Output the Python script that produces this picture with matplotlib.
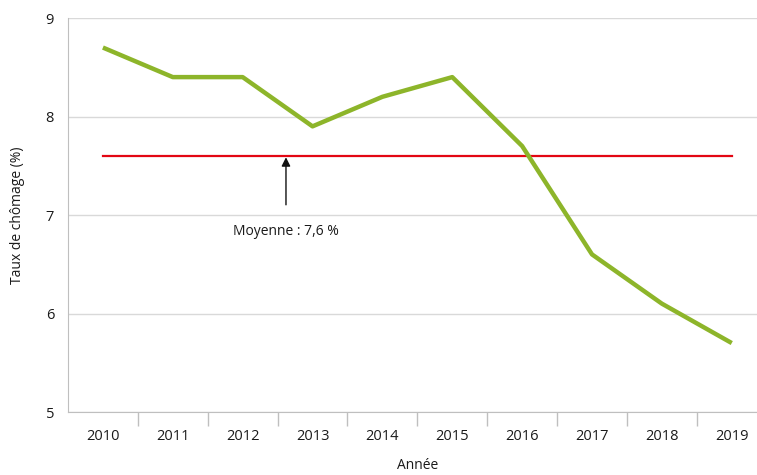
import matplotlib.pyplot as plt

plt.rcParams['font.family'] = ['Open Sans', 'DejaVu Sans']

years = ['2010', '2011', '2012', '2013', '2014', '2015', '2016', '2017', '2018', '2019']
taux = [8.7, 8.4, 8.4, 7.9, 8.2, 8.4, 7.7, 6.6, 6.1, 5.7]
moyenne = 7.6

fig = plt.figure(figsize=(7.57, 4.75), dpi=100)
ax = fig.add_axes([0.0898, 0.1326, 0.923, 0.8295])

x = list(range(len(years)))
ax.plot(x, [moyenne] * len(x), color='#e30613', lw=1.6, zorder=3)
ax.plot(x, taux, color='#8db52a', lw=3.2, solid_capstyle='butt', zorder=4)

ax.annotate('Moyenne : 7,6 %', xy=(2.62, moyenne), xytext=(2.62, 6.83),
            ha='center', va='center', fontsize=10, color='#1a1a1a',
            arrowprops=dict(arrowstyle='-|>', color='#111111', lw=1,
                            shrinkA=12, shrinkB=1, mutation_scale=13))

ax.set_xlim(-0.5, 9.5)
ax.set_ylim(5, 9)
ax.set_yticks([5, 6, 7, 8, 9])
ax.yaxis.grid(True, color='#d9d9d9', lw=1)
ax.set_axisbelow(True)
ax.tick_params(axis='y', length=0, pad=10, labelsize=10.5, labelcolor='#1a1a1a')

ax.set_xticks([i + 0.5 for i in range(len(years) - 1)])
ax.set_xticklabels([])
ax.set_xticks(x, minor=True)
ax.set_xticklabels(years, minor=True)
ax.tick_params(axis='x', which='major', length=10, color='#bfbfbf', width=1)
ax.tick_params(axis='x', which='minor', length=0, pad=12, labelsize=10.5, labelcolor='#1a1a1a')

for s in ['top', 'right']:
    ax.spines[s].set_visible(False)
for s in ['left', 'bottom']:
    ax.spines[s].set_color('#bfbfbf')

ax.set_xlabel('Année', fontsize=10, labelpad=10, color='#1a1a1a')
ax.set_ylabel('Taux de chômage (%)', fontsize=10, labelpad=15, color='#1a1a1a')

fig.savefig('out.png', dpi=100)
